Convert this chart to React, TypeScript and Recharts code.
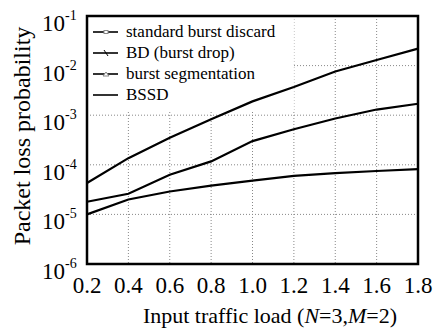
import { LineChart, Line, XAxis, YAxis, CartesianGrid, ReferenceArea } from 'recharts'

const loads = [0.2, 0.4, 0.6, 0.8, 1.0, 1.2, 1.4, 1.6, 1.8]
const upper = [4.3e-5, 1.36e-4, 3.5e-4, 8.3e-4, 1.9e-3, 3.7e-3, 7.6e-3, 1.3e-2, 2.2e-2]
const middle = [1.8e-5, 2.6e-5, 6.3e-5, 1.17e-4, 3.0e-4, 5.2e-4, 8.6e-4, 1.3e-3, 1.7e-3]
const lower = [1.0e-5, 2.0e-5, 2.9e-5, 3.8e-5, 4.8e-5, 6.0e-5, 6.8e-5, 7.5e-5, 8.2e-5]

const yTicks = [1e-6, 1e-5, 1e-4, 1e-3, 1e-2, 1e-1]
const yExps = ['-6', '-5', '-4', '-3', '-2', '-1']
const legendNames = ['standard burst discard', 'BD (burst drop)', 'burst segmentation', 'BSSD']
const legendMarks = ['square', 'cross', 'triangle', 'none']

const data = loads.map((x, i) => ({ x, a: upper[i], b: middle[i], c: lower[i] }))

const serif = "'Liberation Serif', serif"

const XTick = (props: any) => {
  const { x, y, payload } = props
  return (
    <text x={x} y={y + 21} textAnchor="middle" style={{ fontFamily: serif }} fontSize={23} fill="#000">
      {payload.value.toFixed(1)}
    </text>
  )
}

const YTick = (props: any) => {
  const { y, payload } = props
  const idx = yTicks.findIndex((t) => Math.abs(Math.log10(t) - Math.log10(payload.value)) < 0.01)
  return (
    <text x={42} y={y + 15} style={{ fontFamily: serif }} fontSize={23} fill="#000">
      <tspan>10</tspan>
      <tspan dy={-11} fontSize={14}>{yExps[idx]}</tspan>
    </text>
  )
}

const Marker = ({ kind }: { kind: string }) => {
  if (kind === 'square') return <rect x={11} y={-1.5} width={4} height={3} fill="#fff" stroke="#888" strokeWidth={1} />
  if (kind === 'cross') return <path d="M11,-3 L15,3" stroke="#000" strokeWidth={1} />
  if (kind === 'triangle') return <path d="M10,2 L13,-2 L16,2 Z" fill="#fff" stroke="#888" strokeWidth={1} />
  return null
}

const LegendBox = () => (
  <div
    style={{
      position: 'absolute',
      left: 89,
      top: 17,
      width: 204,
      paddingTop: 4,
      fontFamily: serif,
      fontSize: 17,
      color: '#000',
      pointerEvents: 'none',
    }}
  >
    {legendNames.map((name, i) => (
      <div key={name} style={{ display: 'flex', alignItems: 'center', height: 21 }}>
        <svg width={37} height={12}>
          <g transform="translate(4,6)">
            <line x1={0} y1={0} x2={25} y2={0} stroke="#000" strokeWidth={1.6} />
            <Marker kind={legendMarks[i]} />
          </g>
        </svg>
        <span style={{ fontFamily: serif }}>{name}</span>
      </div>
    ))}
  </div>
)

const App = () => {
  return (
    <div style={{ position: 'absolute', left: 0, top: 0, width: 436, height: 330, background: '#fff', fontFamily: serif }}>
      <LineChart width={436} height={330} data={data} margin={{ top: 16, right: 18, left: 0, bottom: 0 }}>
        <CartesianGrid stroke="#888" strokeDasharray="1 2" strokeWidth={1} />
        <XAxis
          dataKey="x"
          type="number"
          domain={[0.2, 1.8]}
          ticks={loads}
          height={66}
          tick={<XTick />}
          tickLine={false}
          axisLine={false}
          label={{
            content: () => (
              <text x={270} y={323} textAnchor="middle" style={{ fontFamily: serif }} fontSize={22} fill="#000">
                Input traffic load (<tspan fontStyle="italic">N</tspan>=3,<tspan fontStyle="italic">M</tspan>=2)
              </text>
            ),
          }}
        />
        <YAxis
          type="number"
          scale="log"
          domain={[1e-6, 1e-1]}
          ticks={yTicks}
          allowDataOverflow
          width={87}
          tick={<YTick />}
          tickLine={false}
          axisLine={false}
          label={{
            content: () => (
              <text
                x={22}
                y={136}
                transform="rotate(-90 22 136)"
                textAnchor="middle"
                dominantBaseline="central"
                style={{ fontFamily: serif }}
                fontSize={24}
                fill="#000"
              >
                Packet loss probability
              </text>
            ),
          }}
        />
        <ReferenceArea x1={0.2} x2={1.2} y1={1.25e-3} y2={1e-1} fill="#fff" fillOpacity={1} stroke="none" />
        <Line dataKey="a" stroke="#000" strokeWidth={2.2} dot={false} isAnimationActive={false} />
        <Line dataKey="b" stroke="#000" strokeWidth={2.2} dot={false} isAnimationActive={false} />
        <Line dataKey="c" stroke="#000" strokeWidth={2.2} dot={false} isAnimationActive={false} />
        <ReferenceArea x1={0.2} x2={1.8} y1={1e-6} y2={1e-1} fill="none" stroke="#000" strokeWidth={2.5} />
      </LineChart>
      <LegendBox />
    </div>
  )
}

export default App
